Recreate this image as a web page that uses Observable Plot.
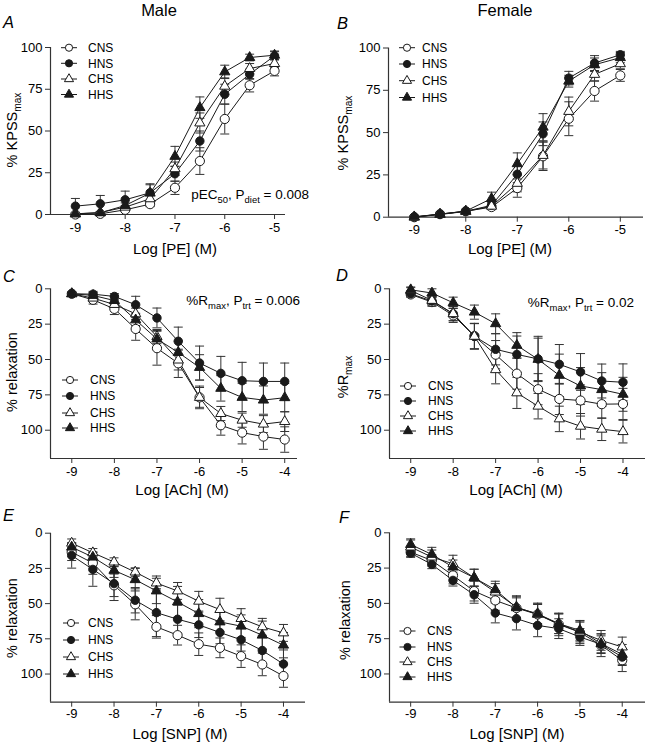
<!DOCTYPE html>
<html><head><meta charset="utf-8">
<script src="https://cdn.jsdelivr.net/npm/d3@7"></script>
<script src="https://cdn.jsdelivr.net/npm/@observablehq/plot@0.6"></script>
<style>
body{margin:0;background:#fff;}
#chart{position:relative;width:645px;height:747px;font-family:"Liberation Sans",Arial,sans-serif;overflow:hidden;}
#chart svg{position:absolute;}
</style></head><body><div id="chart"></div>
<script>
// ---------- data ----------
const groups = ["CNS", "HNS", "CHS", "HHS"];
const concPE = [-9, -8.5, -8, -7.5, -7, -6.5, -6, -5.5, -5];
const concACh = [-9, -8.5, -8, -7.5, -7, -6.5, -6, -5.5, -5, -4.5, -4];
const concSNP = [-9, -8.5, -8, -7.5, -7, -6.5, -6, -5.5, -5, -4.5, -4];
const ticksPE = [-9, -8, -7, -6, -5];
const ticksRelax = [-9, -8, -7, -6, -5, -4];
const ticksY = [0, 25, 50, 75, 100];

// A: Male, PE (% KPSSmax)
const A_CNS = [0, 0.4, 2.8, 6.2, 16, 32, 57.2, 77.4, 86];
const A_HNS = [5, 6.4, 8.8, 13, 24.4, 44, 72, 84, 95];
const A_CHS = [0.4, 1.2, 4.4, 9.4, 27.4, 54.8, 76.8, 87.4, 90.4];
const A_HHS = [0.4, 1, 5.4, 12.8, 34.8, 64, 85.4, 94, 95.4];
const A_CNS_se = [0.5, 0.5, 1, 1.5, 4, 8, 9, 4, 3];
const A_HNS_se = [4.6, 5, 5.2, 5.4, 4.5, 6, 6, 3, 2.5];
const A_CHS_se = [0.5, 0.5, 1, 2, 4, 6, 5, 3, 2.5];
const A_HHS_se = [0.5, 0.5, 1.5, 5, 6, 6.4, 4, 2, 2.5];

// B: Female, PE (% KPSSmax)
const B_CNS = [0, 1.8, 3.5, 6, 17.2, 36, 58.2, 74.6, 83.8];
const B_HNS = [0.2, 1.8, 3.5, 7, 25.4, 49.3, 82.2, 91.1, 96];
const B_CHS = [0, 1.6, 3.4, 6.5, 20, 36.5, 62.5, 84.4, 90.7];
const B_HHS = [0.2, 1.8, 3.6, 11, 31.6, 53.2, 80.4, 90.1, 94.3];
const B_CNS_se = [0.5, 0.5, 0.5, 1.5, 5.4, 8.4, 10, 6, 3.5];
const B_HNS_se = [0.5, 0.5, 0.5, 2, 5, 7, 4, 4.4, 2];
const B_CHS_se = [0.5, 0.5, 0.5, 2, 5, 8, 8.5, 4, 3];
const B_HHS_se = [0.5, 0.5, 0.5, 3.8, 6.4, 8, 3.5, 4, 3];

// C: Male, ACh (% relaxation)
const C_CNS = [3.5, 7.8, 14.2, 28.4, 42, 52.7, 76.8, 96.5, 101.7, 104.5, 106.6];
const C_HNS = [3.5, 3.8, 5.4, 11.3, 20.6, 37.1, 52.5, 59.8, 65, 65.5, 65.5];
const C_CHS = [3.5, 6.6, 11.1, 17.7, 33.8, 50.4, 76.8, 88.2, 92.9, 95.7, 93.9];
const C_HHS = [3.5, 4.7, 8.3, 22, 35.5, 45, 55.6, 70.4, 76.8, 78.7, 77];
const C_CNS_se = [1, 3, 4, 8, 12, 10, 8, 7, 8, 9, 9];
const C_HNS_se = [1, 2, 2, 6, 7, 10, 12, 12, 13, 13, 13];
const C_CHS_se = [1, 2, 3, 4, 5, 7, 7, 5, 5, 6, 7];
const C_HHS_se = [1, 2, 3, 4, 6, 8, 9, 9, 10, 10, 10];

// D: Female, ACh (%Rmax)
const D_CNS = [4, 9.4, 18.8, 33.4, 46.6, 60, 71, 77.9, 79, 81.6, 81.4];
const D_HNS = [3.5, 8.7, 17.6, 33.6, 42.8, 46.4, 49.6, 53.4, 58.8, 65.2, 66.1];
const D_CHS = [1.2, 8.2, 17.6, 33.6, 57.2, 73.6, 83, 92, 97.2, 99.3, 101];
const D_HHS = [0.7, 3, 9.9, 16.5, 24.7, 40, 49.9, 61.2, 68.7, 71.3, 74.6];
const D_CNS_se = [2, 3, 5, 9, 10, 11, 11, 11, 11, 10, 11];
const D_HNS_se = [2, 3, 5, 9, 11, 13, 16, 14, 13, 12, 13];
const D_CHS_se = [2, 3, 5, 9, 10, 11, 9, 9, 9, 8, 8];
const D_HHS_se = [2, 3, 4, 5, 7, 9, 15, 15, 13, 12, 12];

// E: Male, SNP (% relaxation)
const E_CNS = [13.4, 21.2, 37, 50.5, 66.5, 72.4, 78.8, 81.4, 87.3, 93.2, 101.4];
const E_HNS = [15.8, 25.7, 35.8, 47.6, 56.4, 61.1, 65.1, 70.5, 75.7, 83.3, 92.9];
const E_CHS = [7.1, 13.9, 20.5, 27.6, 35.4, 41, 48.3, 54.2, 60.6, 66.5, 70.8];
const E_HHS = [9.9, 17, 26.4, 33, 41, 48.8, 57.1, 63, 66, 72.4, 79.5];
const E_CNS_se = [6, 8, 8, 11, 8, 7, 8, 7, 8, 8, 8];
const E_HNS_se = [9, 12, 12, 9, 17, 10, 9, 8, 8, 10, 10];
const E_CHS_se = [3, 3, 3, 3, 5, 6, 7, 8, 7, 6, 6];
const E_HHS_se = [3, 3, 5, 8, 9, 11, 10, 7, 8, 10, 9];

// F: Female, SNP (% relaxation)
const F_CNS = [13.7, 19.6, 30.2, 41.3, 47.9, 53.3, 57.8, 64.9, 70.5, 79.7, 90.3];
const F_HNS = [14.4, 22.4, 33.7, 43.9, 56.8, 60.8, 65.6, 67.9, 73.8, 79, 88];
const F_CHS = [10.1, 17.2, 21.9, 31.8, 42, 52.6, 57.8, 64.4, 70.3, 76.2, 80.9];
const F_HHS = [8.3, 15.3, 24.3, 31.8, 40.3, 53.1, 57.3, 64.4, 69.1, 78.5, 86.1];
const F_CNS_se = [3, 4, 6, 7, 7, 8, 8, 8, 8, 8, 8];
const F_HNS_se = [3, 3, 4, 6, 7, 8, 8, 7, 6, 6, 6];
const F_CHS_se = [5, 5, 6, 6, 6, 8, 7, 7, 7, 7, 7];
const F_HHS_se = [4, 5, 5, 6, 6, 7, 7, 7, 7, 7, 7];

// ---------- styling ----------
const FONT = '"Liberation Sans", Arial, sans-serif';
const INK = "#1a1a1a";
const AXIS = "#333";
const markerStyle = {
  CNS: {symbol: "circle", fill: "#fff", r: 4.6},
  HNS: {symbol: "circle", fill: INK, r: 4.2},
  CHS: {symbol: "triangle", fill: "#fff", r: 3.8},
  HHS: {symbol: "triangle", fill: INK, r: 3.8}
};
const capSymbol = {draw(ctx, size) { const r = Math.sqrt(size / Math.PI); ctx.moveTo(-r, 0); ctx.lineTo(r, 0); }};

function rowsFor(conc, sets) {
  const rows = [];
  groups.forEach((g, k) => {
    const [m, se] = sets[k];
    conc.forEach((x, i) => rows.push({group: g, x, y: m[i], se: se[i]}));
  });
  return rows;
}

const panels = [
  {left: 0, top: 0, width: 320, height: 250, ml: 50, mr: 35, mt: 47, mb: 36,
   xd: [-9.5, -4.78], yd: [0, 100], rev: false, conc: concPE, xt: ticksPE, tp: 3,
   sets: [[A_CNS, A_CNS_se], [A_HNS, A_HNS_se], [A_CHS, A_CHS_se], [A_HHS, A_HHS_se]]},
  {left: 320, top: 0, width: 325, height: 250, ml: 68, mr: 2, mt: 47.5, mb: 33.3,
   xd: [-9.5, -4.55], yd: [0, 100], rev: false, conc: concPE, xt: ticksPE, tp: 3,
   sets: [[B_CNS, B_CNS_se], [B_HNS, B_HNS_se], [B_CHS, B_CHS_se], [B_HHS, B_HHS_se]]},
  {left: 0, top: 250, width: 320, height: 250, ml: 50, mr: 23, mt: 38.3, mb: 42,
   xd: [-9.5, -3.7], yd: [0, 120], rev: true, conc: concACh, xt: ticksRelax, tp: 3,
   sets: [[C_CNS, C_CNS_se], [C_HNS, C_HNS_se], [C_CHS, C_CHS_se], [C_HHS, C_HHS_se]]},
  {left: 320, top: 250, width: 325, height: 250, ml: 69, mr: 0, mt: 38.3, mb: 42,
   xd: [-9.5, -3.47], yd: [0, 120], rev: true, conc: concACh, xt: ticksRelax, tp: 3,
   sets: [[D_CNS, D_CNS_se], [D_HNS, D_HNS_se], [D_CHS, D_CHS_se], [D_HHS, D_HHS_se]]},
  {left: 0, top: 500, width: 320, height: 247, ml: 50, mr: 15, mt: 32.7, mb: 45.3,
   xd: [-9.5, -3.48], yd: [0, 120], rev: true, conc: concSNP, xt: ticksRelax, tp: 2,
   sets: [[E_CNS, E_CNS_se], [E_HNS, E_HNS_se], [E_CHS, E_CHS_se], [E_HHS, E_HHS_se]]},
  {left: 320, top: 500, width: 325, height: 247, ml: 69, mr: 0, mt: 32.3, mb: 45.3,
   xd: [-9.5, -3.45], yd: [0, 120], rev: true, conc: concSNP, xt: ticksRelax, tp: 2,
   sets: [[F_CNS, F_CNS_se], [F_HNS, F_HNS_se], [F_CHS, F_CHS_se], [F_HHS, F_HHS_se]]}
];

const chart = document.getElementById("chart");

for (const p of panels) {
  const rows = rowsFor(p.conc, p.sets);
  const bottomVal = p.rev ? p.yd[1] : p.yd[0];
  const marks = [
    Plot.ruleX([p.xd[0]], {stroke: AXIS, strokeWidth: 1.2}),
    Plot.ruleY([bottomVal], {stroke: AXIS, strokeWidth: 1.2}),
    Plot.axisX({ticks: p.xt, tickSize: 5, tickPadding: p.tp, tickFormat: d => String(d), label: null, stroke: AXIS}),
    Plot.axisY({ticks: ticksY, tickSize: 5, tickPadding: 3, tickFormat: d => String(d), label: null, stroke: AXIS}),
    Plot.line(rows, {x: "x", y: "y", z: "group", stroke: INK, strokeWidth: 1}),
    Plot.ruleX(rows, {x: "x", y1: d => d.y - d.se, y2: d => d.y + d.se, stroke: "#333", strokeWidth: 1}),
    Plot.dot(rows, {x: "x", y: d => d.y - d.se, symbol: capSymbol, r: 4.5, stroke: "#333", fill: "none", strokeWidth: 1}),
    Plot.dot(rows, {x: "x", y: d => d.y + d.se, symbol: capSymbol, r: 4.5, stroke: "#333", fill: "none", strokeWidth: 1})
  ];
  for (const g of groups) {
    const s = markerStyle[g];
    marks.push(Plot.dot(rows.filter(d => d.group === g), {x: "x", y: "y", symbol: s.symbol, r: s.r, fill: s.fill, stroke: INK, strokeWidth: 1}));
  }
  const svg = Plot.plot({
    width: p.width, height: p.height,
    marginLeft: p.ml, marginRight: p.mr, marginTop: p.mt, marginBottom: p.mb,
    x: {domain: p.xd},
    y: {domain: p.yd, reverse: p.rev},
    style: {fontFamily: FONT, fontSize: "13px", color: "#000", background: "transparent", overflow: "visible"},
    marks
  });
  svg.style.left = p.left + "px";
  svg.style.top = p.top + "px";
  chart.appendChild(svg);
}

// ---------- overlay: titles, labels, legends ----------
const ov = d3.select(chart).append("svg")
  .attr("width", 645).attr("height", 747)
  .style("left", "0px").style("top", "0px").style("pointer-events", "none")
  .attr("font-family", FONT).attr("fill", "#000");

function rich(x, y, parts, size, anchor = "start", rotate = 0, italic = false) {
  const t = ov.append("text")
    .attr("transform", `translate(${x},${y})` + (rotate ? ` rotate(${rotate})` : ""))
    .attr("font-size", size).attr("text-anchor", anchor);
  if (italic) t.attr("font-style", "italic");
  let shifted = false;
  for (const [s, sub] of parts) {
    const ts = t.append("tspan").text(s);
    if (sub) { ts.attr("font-size", size * 0.7).attr("dy", size * 0.3); shifted = true; }
    else if (shifted) { ts.attr("dy", -size * 0.3); shifted = false; }
  }
  return t;
}

const titles = [["Male", 159, 16], ["Female", 505, 16]];
titles.forEach(([s, x, y]) => rich(x, y, [[s]], 16.5, "middle"));

const letters = [["A", 3, 28], ["B", 337, 29], ["C", 3, 282], ["D", 336, 281], ["E", 3, 521], ["F", 339, 523]];
letters.forEach(([s, x, y]) => rich(x, y, [[s]], 16.5, "start", 0, true));

const xLabels = [["Log [PE] (M)", 175, 254], ["Log [PE] (M)", 510, 254],
                 ["Log [ACh] (M)", 182, 495], ["Log [ACh] (M)", 516, 495],
                 ["Log [SNP] (M)", 180, 739], ["Log [SNP] (M)", 517, 739]];
xLabels.forEach(([s, x, y]) => rich(x, y, [[s]], 15, "middle"));

const yLabels = [
  [[["% KPSS"], ["max", true]], 17, 130],
  [[["% KPSS"], ["max", true]], 348, 133],
  [[["% relaxation"]], 17, 372],
  [[["%R"], ["max", true]], 348, 377],
  [[["% relaxation"]], 17, 618],
  [[["% relaxation"]], 350, 620]
];
yLabels.forEach(([parts, x, y]) => rich(x, y, parts, 14.5, "middle", -90));

const notes = [
  [[["pEC"], ["50", true], [", P"], ["diet", true], [" = 0.008"]], 309, 199],
  [[["%R"], ["max", true], [", P"], ["trt", true], [" = 0.006"]], 300, 305],
  [[["%R"], ["max", true], [", P"], ["trt", true], [" = 0.02"]], 634, 307]
];
notes.forEach(([parts, x, y]) => rich(x, y, parts, 13.5, "end"));

const legends = [
  {mx: 69, tx: 88, ys: [47.7, 63.3, 79, 94.5]},
  {mx: 407, tx: 422, ys: [47.7, 64, 80.7, 97.5]},
  {mx: 70, tx: 90, ys: [380, 396, 413, 428]},
  {mx: 408, tx: 428, ys: [386, 401, 416, 431]},
  {mx: 71, tx: 88, ys: [623, 640, 657, 674]},
  {mx: 407.5, tx: 427, ys: [631, 647, 662, 677]}
];
for (const L of legends) {
  groups.forEach((g, i) => {
    const y = L.ys[i];
    const s = markerStyle[g];
    ov.append("line").attr("x1", L.mx - 8).attr("x2", L.mx + 8).attr("y1", y).attr("y2", y)
      .attr("stroke", INK).attr("stroke-width", 1);
    const type = s.symbol === "circle" ? d3.symbolCircle : d3.symbolTriangle;
    const rr = s.symbol === "circle" ? 3.6 : 3.4;
    ov.append("path").attr("d", d3.symbol(type, rr * rr * Math.PI)())
      .attr("transform", `translate(${L.mx},${y})`)
      .attr("fill", s.fill).attr("stroke", INK).attr("stroke-width", 1);
    ov.append("text").attr("x", L.tx).attr("y", y).attr("dy", "0.36em")
      .attr("font-size", 12).text(g);
  });
}
</script></body></html>
